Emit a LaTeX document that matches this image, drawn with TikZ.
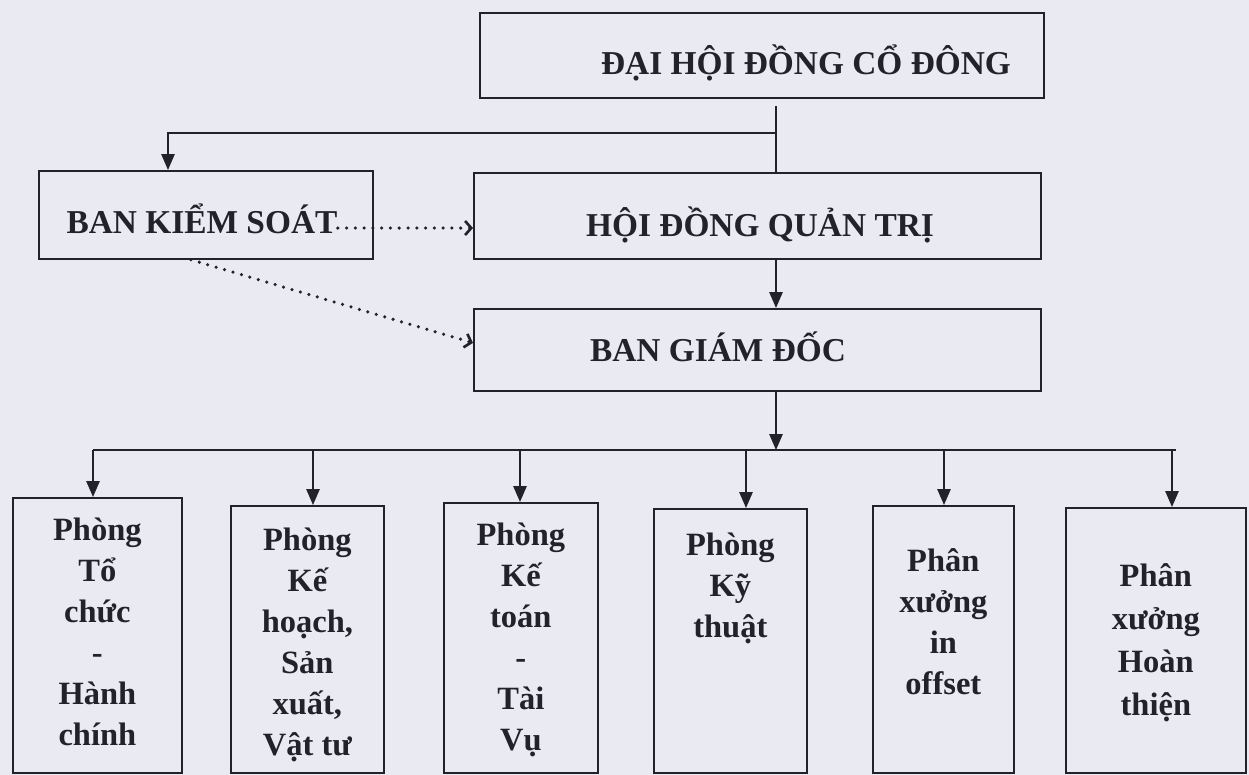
\documentclass[tikz,border=0pt]{standalone}
\usepackage{fontspec}
\setmainfont{Liberation Serif}
\usetikzlibrary{arrows.meta,positioning}

\definecolor{paper}{RGB}{234,234,242}
\definecolor{ink}{RGB}{34,34,40}

\tikzset{
  box/.style={draw=ink, line width=1pt, inner sep=0pt, anchor=north west},
  head/.style={font=\bfseries\fontsize{19}{23}\selectfont, text=ink, inner sep=0pt, anchor=base},
  dept/.style={font=\bfseries\fontsize{18.5}{23.3}\selectfont, text=ink, align=center, inner sep=0pt},
  link/.style={draw=ink, line width=1pt},
  arr/.style={draw=ink, line width=1pt, -{Triangle[width=7.5pt,length=9pt]}},
  dots/.style={draw=ink, line width=2pt, line cap=round, dash pattern=on 0pt off 5pt,
    -{Straight Barb[length=3.5pt,width=8pt,line width=1.5pt]}}
}

\begin{document}
\begin{tikzpicture}[x=0.02cm, y=-0.02cm]
  \useasboundingbox (0,0) rectangle (1249,775);
  \fill[paper] (0,0) rectangle (1249,775);

  % upper part
  \node[box, line width=1.4pt, minimum width=11.28cm, minimum height=1.7cm] (dh) at (479,12) {};
  \node[head] (dhtxt) at (806,74) {ĐẠI HỘI ĐỒNG CỔ ĐÔNG};
  \node[box, minimum width=6.68cm, minimum height=1.76cm] (bk) at (38,170) {};
  \node[head] (bktxt) at (202,233) {BAN KIỂM SOÁT};
  \node[box, minimum width=11.34cm, minimum height=1.72cm] (hd) at (473,172) {};
  \node[head] (hdtxt) at (760,236) {HỘI ĐỒNG QUẢN TRỊ};
  \node[box, minimum width=11.34cm, minimum height=1.64cm] (bg) at (473,308) {};
  \node[head] (bgtxt) at (718,361) {BAN GIÁM ĐỐC};

  \coordinate (axis) at (776,0);
  \coordinate (dhout) at (776,106);
  \coordinate (fork) at (776,133);
  \coordinate (bkin) at (168,170);
  \draw[link] (dhout) -- (hd.north -| axis);
  \draw[arr] (fork) -| (bkin);
  \draw[arr] (hd.south -| axis) -- (bg.north -| axis);

  \coordinate (dotA) at ([yshift=0.1cm]bktxt.base east);
  \draw[dots] (dotA) -- (dotA -| hd.west);
  \draw[dots] ([xshift=-0.3cm]bk.south) -- ([yshift=0.14cm]bg.west);

  % departments
  \node[box, minimum width=3.38cm, minimum height=5.5cm] (d1) at (12,497) {};
  \node[box, minimum width=3.06cm, minimum height=5.34cm] (d2) at (230,505) {};
  \node[box, minimum width=3.08cm, minimum height=5.4cm] (d3) at (443,502) {};
  \node[box, minimum width=3.06cm, minimum height=5.28cm] (d4) at (653,508) {};
  \node[box, minimum width=2.82cm, minimum height=5.34cm] (d5) at (872,505) {};
  \node[box, minimum width=3.6cm, minimum height=5.3cm] (d6) at (1065,507) {};

  \node[dept, below=0.42cm of d1.north] (t1) {Phòng\\Tổ\\chức\\-\\Hành\\chính};
  \node[dept, below=0.46cm of d2.north] (t2) {Phòng\\Kế\\hoạch,\\Sản\\xuất,\\Vật tư};
  \node[dept, below=0.42cm of d3.north] (t3) {Phòng\\Kế\\toán\\-\\Tài\\Vụ};
  \node[dept, below=0.5cm of d4.north] (t4) {Phòng\\Kỹ\\thuật};
  \node[dept, below=0.86cm of d5.north] (t5) {Phân\\xưởng\\in\\offset};
  \node[dept, below=1.12cm of d6.north, font=\bfseries\fontsize{18.5}{24.5}\selectfont] (t6) {Phân\\xưởng\\Hoàn\\thiện};

  \coordinate (busL) at (93,450);
  \coordinate (busR) at (1176,450);
  \draw[arr] (bg.south -| axis) -- (busL -| axis);
  \draw[link] (busL) -- (busR);
  \foreach \x/\n in {93/d1, 313/d2, 520/d3, 746/d4, 944/d5, 1172/d6}
    \draw[arr] (\x,450) -- (\x,0 |- \n.north);
\end{tikzpicture}
\end{document}
